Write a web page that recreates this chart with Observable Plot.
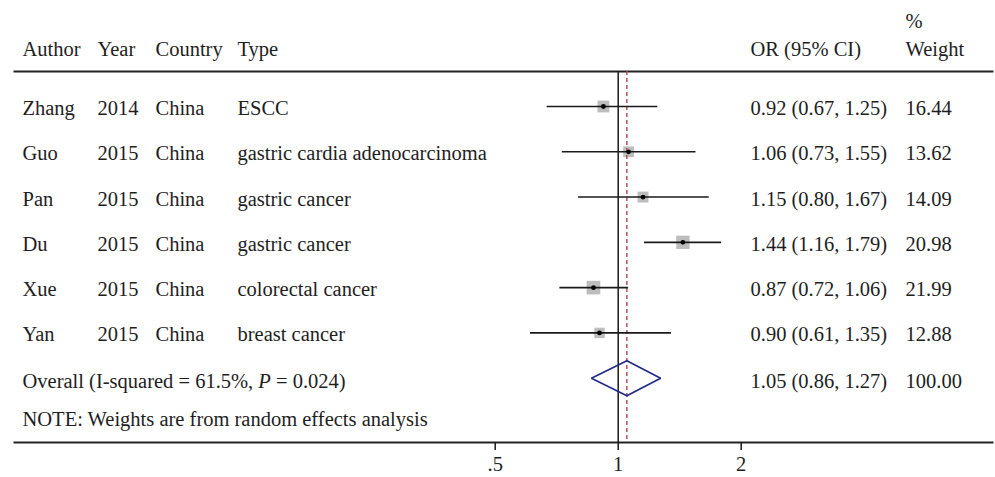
<!DOCTYPE html>
<html>
<head>
<meta charset="utf-8">
<script src="https://cdn.jsdelivr.net/npm/d3@7"></script>
<script src="https://cdn.jsdelivr.net/npm/@observablehq/plot@0.6"></script>
<style>
  html, body { margin: 0; padding: 0; background: #fff; }
</style>
</head>
<body>
<div id="chart"></div>
<script>
// ---- Data ----
const authors   = ["Zhang", "Guo", "Pan", "Du", "Xue", "Yan"];
const years     = [2014, 2015, 2015, 2015, 2015, 2015];
const countries = ["China", "China", "China", "China", "China", "China"];
const types     = ["ESCC", "gastric cardia adenocarcinoma", "gastric cancer", "gastric cancer", "colorectal cancer", "breast cancer"];
const orValues  = [0.92, 1.06, 1.15, 1.44, 0.87, 0.90];
const ciLow     = [0.67, 0.73, 0.80, 1.16, 0.72, 0.61];
const ciHigh    = [1.25, 1.55, 1.67, 1.79, 1.06, 1.35];
const weights   = [16.44, 13.62, 14.09, 20.98, 21.99, 12.88];

const overallOR = 1.05, overallLow = 0.86, overallHigh = 1.27, overallWeight = 100.00;
const overallLabelParts = ["Overall (I-squared = 61.5%, ", "P", " = 0.024)"];
const noteLabel = "NOTE: Weights are from random effects analysis";

const headerLeft = ["Author", "Year", "Country", "Type"];
const headerOR = "OR (95% CI)";
const headerWeight = ["%", "Weight"];

const xTicks = [0.5, 1, 2];
const xTickLabels = [".5", "1", "2"];

// ---- Layout ----
const W = 995, H = 477;
const mL = 13, mR = 2, mT = 71, mB = 35;
const colDx = { author: 9, year: 84, country: 142, type: 224, or: 737, weight: 892 };
const FS = 20.5;
const FONT = "Liberation Serif, Times New Roman, serif";
const textColor = "#1e1e1e";

const rows = authors.map((a, i) => ({
  row: i + 1, author: a, year: String(years[i]), country: countries[i], type: types[i],
  or: orValues[i], lo: ciLow[i], hi: ciHigh[i], w: weights[i],
  orText: `${orValues[i].toFixed(2)} (${ciLow[i].toFixed(2)}, ${ciHigh[i].toFixed(2)})`,
  wText: weights[i].toFixed(2)
}));
const overallRow = authors.length + 1;
const overall = [{
  row: overallRow, label: overallLabelParts.join(""),
  orText: `${overallOR.toFixed(2)} (${overallLow.toFixed(2)}, ${overallHigh.toFixed(2)})`,
  wText: overallWeight.toFixed(2)
}];
const diamondHalf = 0.386; // half height of the pooled diamond, in row units
const diamond = [
  {x: overallLow, y: overallRow},
  {x: overallOR, y: overallRow - diamondHalf},
  {x: overallHigh, y: overallRow},
  {x: overallOR, y: overallRow + diamondHalf}
];

const textOpts = {fontFamily: FONT, fontSize: FS, fill: textColor, textAnchor: "start", lineAnchor: "middle"};

const plot = Plot.plot({
  width: W, height: H,
  marginLeft: mL, marginRight: mR, marginTop: mT, marginBottom: mB,
  style: {fontFamily: FONT, fontSize: FS + "px", color: textColor, background: "#fff"},
  x: {type: "log", domain: [0.5, 2], range: [494.7, 740.7]},
  y: {type: "linear", domain: [1, overallRow], range: [106, 377.7], axis: null},
  r: {type: "sqrt", domain: [0, d3.max(weights)], range: [0, 7.7]},
  marks: [
    // top and bottom separator lines (frame drawn only on top & bottom edges)
    Plot.frame({stroke: "#222", strokeWidth: 2, strokeDasharray: `${W - mL - mR},${H - mT - mB}`}),
    // weight squares
    Plot.dot(rows, {x: "or", y: "row", r: "w", symbol: "square", fill: "#bdbdbd", stroke: "none"}),
    // null line
    Plot.ruleX([1], {stroke: "#1a1a1a", strokeWidth: 1.5}),
    // overall effect dashed line
    Plot.ruleX([overallOR], {stroke: "#b2464c", strokeWidth: 1.4, strokeDasharray: "4,3"}),
    // confidence intervals
    Plot.ruleY(rows, {y: "row", x1: "lo", x2: "hi", stroke: "#1a1a1a", strokeWidth: 1.6}),
    // point estimates
    Plot.dot(rows, {x: "or", y: "row", r: 2.4, fill: "#000", stroke: "none"}),
    // diamond
    Plot.line(diamond, {x: "x", y: "y", curve: "linear-closed", stroke: "#1f2a8a", strokeWidth: 1.6, strokeLinejoin: "miter"}),
    // x axis
    Plot.axisX({ticks: xTicks, tickFormat: (d) => xTickLabels[xTicks.indexOf(d)], tickSize: 8, tickPadding: 6,
      fontSize: FS, fontFamily: FONT, stroke: "#1a1a1a", strokeWidth: 1.5, label: null, color: textColor}),
    // header
    ...headerLeft.map((h, i) => Plot.text([h], {...textOpts, frameAnchor: "top-left",
      dx: [colDx.author, colDx.year, colDx.country, colDx.type][i], dy: -22})),
    Plot.text([headerOR], {...textOpts, frameAnchor: "top-left", dx: colDx.or, dy: -22}),
    Plot.text([headerWeight[0]], {...textOpts, frameAnchor: "top-left", dx: colDx.weight, dy: -50}),
    Plot.text([headerWeight[1]], {...textOpts, frameAnchor: "top-left", dx: colDx.weight, dy: -22}),
    // study rows
    Plot.text(rows, {...textOpts, y: "row", text: "author", frameAnchor: "left", dx: colDx.author, dy: 2}),
    Plot.text(rows, {...textOpts, y: "row", text: "year", frameAnchor: "left", dx: colDx.year, dy: 2}),
    Plot.text(rows, {...textOpts, y: "row", text: "country", frameAnchor: "left", dx: colDx.country, dy: 2}),
    Plot.text(rows, {...textOpts, y: "row", text: "type", frameAnchor: "left", dx: colDx.type, dy: 2}),
    Plot.text(rows, {...textOpts, y: "row", text: "orText", frameAnchor: "left", dx: colDx.or, dy: 2}),
    Plot.text(rows, {...textOpts, y: "row", text: "wText", frameAnchor: "left", dx: colDx.weight, dy: 2}),
    // overall row
    Plot.text(overall, {...textOpts, y: "row", text: "label", frameAnchor: "left", dx: colDx.author, dy: 3}),
    Plot.text(overall, {...textOpts, y: "row", text: "orText", frameAnchor: "left", dx: colDx.or, dy: 3}),
    Plot.text(overall, {...textOpts, y: "row", text: "wText", frameAnchor: "left", dx: colDx.weight, dy: 3}),
    // note
    Plot.text([noteLabel], {...textOpts, frameAnchor: "bottom-left", dx: colDx.author, dy: -23})
  ]
});

// italic P in the overall label
plot.querySelectorAll("text").forEach((t) => {
  if (t.textContent === overallLabelParts.join("")) {
    t.textContent = "";
    overallLabelParts.forEach((p, i) => {
      const ts = document.createElementNS("http://www.w3.org/2000/svg", "tspan");
      ts.textContent = p;
      if (i === 1) ts.setAttribute("font-style", "italic");
      t.appendChild(ts);
    });
  }
});

document.getElementById("chart").appendChild(plot);
</script>
</body>
</html>
